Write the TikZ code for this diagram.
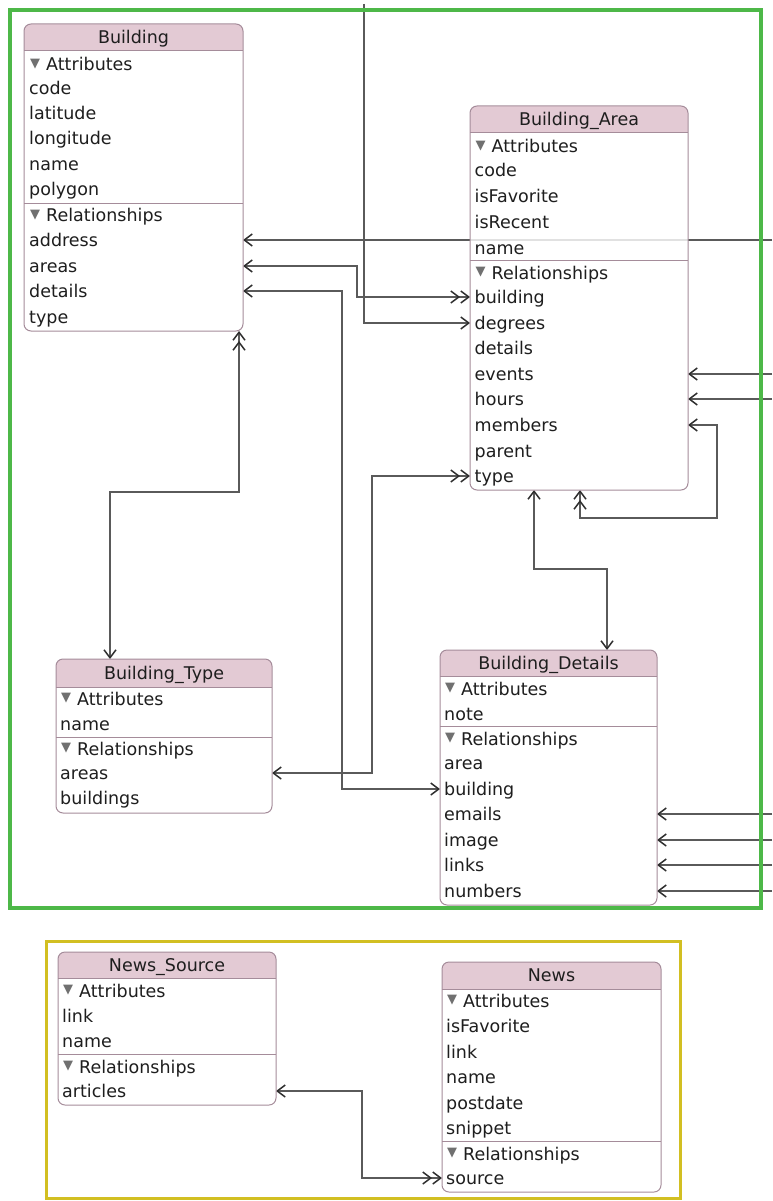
\documentclass[tikz,border=0pt]{standalone}
\usepackage{fontspec}
\setmainfont{DejaVu Sans}
\usetikzlibrary{arrows.meta}

\definecolor{headpink}{HTML}{E3CAD4}
\definecolor{boxline}{HTML}{A58C9A}
\definecolor{linkgray}{HTML}{5A5A5A}
\definecolor{tipdark}{HTML}{2E2E2E}
\definecolor{framegreen}{HTML}{4DB848}
\definecolor{frameyellow}{HTML}{D2BF22}
\definecolor{txt}{HTML}{1E1E1E}
\definecolor{trigray}{HTML}{707070}

\pgfdeclarelayer{links}
\pgfsetlayers{links,main}

\tikzset{
  rowtext/.style={anchor=west, inner sep=0pt, text height=14pt, text depth=2pt,
                  font=\fontsize{17.5}{18}\selectfont, text=txt},
  titletext/.style={rowtext, anchor=center},
  boxbody/.style={anchor=north west, inner sep=0pt, outer sep=0pt, fill=white,
                  rounded corners=7pt},
  link/.style={draw=linkgray, line width=1.6pt},
  >={Straight Barb[length=8pt,width=12pt,line width=1.5pt,color=tipdark]},
}

% disclosure triangle in front of a section heading
\newcommand\dtri{\hspace{1pt}\raisebox{3.5pt}{\color{trigray}\fontsize{13}{13}\selectfont ▼}\hspace{6pt}}

% entity box: #1 name, #2 left, #3 top, #4 right, #5 bottom, #6 header bottom, #7 title, #8 body style
\newcommand\entity[8]{%
  \node[boxbody, minimum width={#4-#2}, minimum height={#5-#3}, #8] (#1) at (#2,#3) {};
  \begin{scope}
    \clip[rounded corners=7pt] (#2,#3) rectangle (#4,#5);
    \fill[headpink] (#2,#3) rectangle (#4,#6);
  \end{scope}
  \draw[boxline, line width=1pt] (#2,#6) -- (#4,#6);
  \draw[boxline, line width=1pt, rounded corners=7pt] (#2,#3) rectangle (#4,#5);
  \node[titletext] (#1-title) at ({(#2+#4)/2},{(#3+#6)/2}) {#7};
}
% separator between attributes and relationships
\newcommand\divider[3]{\draw[boxline, line width=1pt] (#1,#3) -- (#2,#3);}

\begin{document}
\begin{tikzpicture}[x=1pt,y=-1pt]
\useasboundingbox (0,0) rectangle (772,1201);

% ---------- Building ----------
\entity{b}{24}{24}{243}{331}{51}{Building}{}
\node[rowtext] (b-attr) at (29,65) {\dtri Attributes};
\node[rowtext] (b-code) at (29,89) {code};
\node[rowtext] (b-latitude) at (29,114) {latitude};
\node[rowtext] (b-longitude) at (29,139) {longitude};
\node[rowtext] (b-name) at (29,165) {name};
\node[rowtext] (b-polygon) at (29,190) {polygon};
\divider{24}{243}{203}
\node[rowtext] (b-rel) at (29,216) {\dtri Relationships};
\node[rowtext] (b-address) at (29,240) {address};
\node[rowtext] (b-areas) at (29,266) {areas};
\node[rowtext] (b-details) at (29,291) {details};
\node[rowtext] (b-type) at (29,317) {type};

% ---------- Building_Area ----------
\entity{ba}{470}{106}{688}{490}{133}{Building\_Area}{fill opacity=0.82}
\node[rowtext] (ba-attr) at (474.5,147) {\dtri Attributes};
\node[rowtext] (ba-code) at (474.5,171) {code};
\node[rowtext] (ba-isFavorite) at (474.5,196) {isFavorite};
\node[rowtext] (ba-isRecent) at (474.5,222) {isRecent};
\node[rowtext] (ba-name) at (474.5,248) {name};
\divider{470}{688}{260}
\node[rowtext] (ba-rel) at (474.5,273) {\dtri Relationships};
\node[rowtext] (ba-building) at (474.5,297) {building};
\node[rowtext] (ba-degrees) at (474.5,323) {degrees};
\node[rowtext] (ba-details) at (474.5,348) {details};
\node[rowtext] (ba-events) at (474.5,374) {events};
\node[rowtext] (ba-hours) at (474.5,399) {hours};
\node[rowtext] (ba-members) at (474.5,425) {members};
\node[rowtext] (ba-parent) at (474.5,451) {parent};
\node[rowtext] (ba-type) at (474.5,476) {type};

% ---------- Building_Type ----------
\entity{bt}{56}{659}{272}{813}{687}{Building\_Type}{}
\node[rowtext] (bt-attr) at (60,699) {\dtri Attributes};
\node[rowtext] (bt-name) at (60,724) {name};
\divider{56}{272}{737}
\node[rowtext] (bt-rel) at (60,749) {\dtri Relationships};
\node[rowtext] (bt-areas) at (60,773) {areas};
\node[rowtext] (bt-buildings) at (60,798) {buildings};

% ---------- Building_Details ----------
\entity{bd}{440}{650}{657}{905}{676}{Building\_Details}{}
\node[rowtext] (bd-attr) at (444,689) {\dtri Attributes};
\node[rowtext] (bd-note) at (444,714) {note};
\divider{440}{657}{726}
\node[rowtext] (bd-rel) at (444,739) {\dtri Relationships};
\node[rowtext] (bd-area) at (444,763) {area};
\node[rowtext] (bd-building) at (444,789) {building};
\node[rowtext] (bd-emails) at (444,814) {emails};
\node[rowtext] (bd-image) at (444,840) {image};
\node[rowtext] (bd-links) at (444,865) {links};
\node[rowtext] (bd-numbers) at (444,891) {numbers};

% ---------- News_Source ----------
\entity{ns}{58}{952}{276}{1105}{978}{News\_Source}{}
\node[rowtext] (ns-attr) at (62,991) {\dtri Attributes};
\node[rowtext] (ns-link) at (62,1016) {link};
\node[rowtext] (ns-name) at (62,1041) {name};
\divider{58}{276}{1054}
\node[rowtext] (ns-rel) at (62,1067) {\dtri Relationships};
\node[rowtext] (ns-articles) at (62,1091) {articles};

% ---------- News ----------
\entity{nw}{442}{962}{661}{1192}{989}{News}{}
\node[rowtext] (nw-attr) at (446,1001) {\dtri Attributes};
\node[rowtext] (nw-isFavorite) at (446,1026) {isFavorite};
\node[rowtext] (nw-link) at (446,1052) {link};
\node[rowtext] (nw-name) at (446,1077) {name};
\node[rowtext] (nw-postdate) at (446,1103) {postdate};
\node[rowtext] (nw-snippet) at (446,1128) {snippet};
\divider{442}{661}{1141}
\node[rowtext] (nw-rel) at (446,1154) {\dtri Relationships};
\node[rowtext] (nw-source) at (446,1178) {source};

% ---------- group frames ----------
\draw[framegreen, line width=4pt] (10,10) rectangle (761,908);
\draw[frameyellow, line width=3pt] (46,941) rectangle (680,1198);

% ---------- relationships ----------
\coordinate (rim) at (772,0);
\coordinate (topin) at (364,4);
\begin{pgfonlayer}{links}
  \draw[link,->] (b-address -| rim) -- (b.east |- b-address);
  \draw[link,<->>] (b.east |- b-areas) -- ++(114,0) |- (ba.west |- ba-building);
  \draw[link,->] (topin) |- (ba.west |- ba-degrees);
  \draw[link,<->] (b.east |- b-details) -- ++(99,0) |- (bd.west |- bd-building);
  \draw[link,<->>] (bt.east |- bt-areas) -- ++(100,0) |- (ba.west |- ba-type);
  \draw[link,<<->] ([xshift=-4pt]b.south east) -- ++(0,161) -| ([xshift=54pt]bt.north west);
  \draw[link,<->] ([xshift=64pt]ba.south west) -- ++(0,79) -| ([xshift=167pt]bd.north west);
  \draw[link,<<->] ([xshift=110pt]ba.south west) -- ++(0,28) -- ++(137,0) |- (ba.east |- ba-members);
  \draw[link,->] (ba-events -| rim) -- (ba.east |- ba-events);
  \draw[link,->] (ba-hours -| rim) -- (ba.east |- ba-hours);
  \draw[link,->] (bd-emails -| rim) -- (bd.east |- bd-emails);
  \draw[link,->] (bd-image -| rim) -- (bd.east |- bd-image);
  \draw[link,->] (bd-links -| rim) -- (bd.east |- bd-links);
  \draw[link,->] (bd-numbers -| rim) -- (bd.east |- bd-numbers);
  \draw[link,<->>] (ns.east |- ns-articles) -- ++(86,0) |- (nw.west |- nw-source);
\end{pgfonlayer}
\end{tikzpicture}
\end{document}
